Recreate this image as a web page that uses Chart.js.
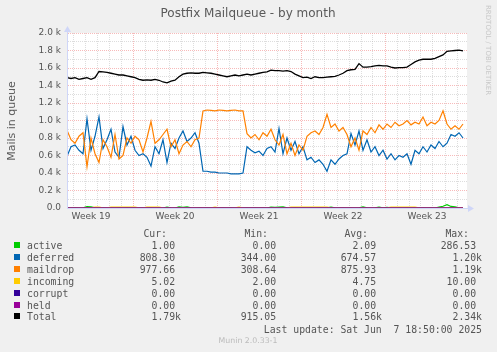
<!DOCTYPE html>
<html>
<head>
<meta charset="utf-8">
<script src="https://cdn.jsdelivr.net/npm/chart.js@4.4.1/dist/chart.umd.min.js"></script>
<style>
html, body { margin: 0; padding: 0; background: #f0f0f0; }
#wrap { position: relative; width: 497px; height: 352px; overflow: hidden; }
#c { position: absolute; left: 0; top: 0; }
.t { position: absolute; white-space: pre; color: #555; line-height: 12px; }
.mono { font-family: 'DejaVu Sans Mono', monospace; font-size: 9.8px; }
.sw { position: absolute; width: 6px; height: 6px; }
</style>
</head>
<body>
<div id="wrap"><canvas id="c" width="497" height="352"></canvas></div>
<script>
// Values, one sample every 8 hours (4 px of the original graph)
const stepDays = 1 / 3;
const spanDays = 400 / 12;

const total = [1490,1480,1490,1470,1480,1490,1470,1490,1560,1555,
  1550,1540,1530,1520,1520,1510,1500,1490,1470,1460,
  1465,1460,1470,1460,1440,1430,1450,1460,1500,1530,
  1540,1545,1540,1540,1550,1545,1540,1530,1520,1510,
  1500,1510,1520,1510,1520,1530,1520,1530,1540,1550,
  1555,1575,1570,1570,1565,1570,1560,1530,1510,1490,
  1495,1480,1500,1490,1490,1495,1500,1505,1520,1540,
  1570,1580,1585,1650,1610,1610,1615,1625,1630,1625,
  1625,1610,1600,1605,1605,1610,1640,1670,1690,1700,
  1700,1700,1710,1730,1750,1790,1795,1800,1805,1795];

const deferred = [590,700,720,660,620,1020,660,820,1040,680,
  780,900,640,580,930,720,820,660,600,620,
  580,480,700,620,780,520,740,680,800,880,
  760,800,860,740,420,420,410,410,400,400,
  400,390,390,390,400,700,660,630,650,600,
  680,700,640,910,620,800,660,760,620,700,
  550,580,520,550,500,420,550,500,560,600,
  620,850,720,880,660,780,640,700,600,660,
  560,620,550,600,580,620,500,660,620,700,
  640,720,680,760,700,740,840,820,860,800];

const maildrop = [890,780,740,820,860,470,800,620,520,780,
  700,580,840,560,600,800,740,820,780,640,
  800,990,740,780,840,900,700,780,620,720,
  760,700,780,800,1110,1120,1115,1110,1120,1115,
  1110,1115,1120,1110,1110,850,800,840,780,860,
  820,900,780,720,840,620,740,600,720,660,
  820,860,880,840,920,1070,920,960,880,920,
  840,700,800,660,880,840,920,860,950,900,
  960,920,980,940,960,1000,950,980,960,1040,
  940,980,960,1000,1110,960,900,940,900,960];

const active = [1,0,1,0,1,15,12,1,0,1,
  0,1,0,1,0,1,0,1,0,1,
  0,1,0,1,0,10,1,0,12,8,
  14,1,0,1,0,1,0,1,0,1,
  0,1,0,1,0,1,0,1,0,1,
  0,10,8,10,12,1,0,1,0,1,
  0,1,0,1,0,1,10,1,0,1,
  0,1,0,1,12,1,0,1,10,1,
  8,1,0,1,0,1,0,1,0,1,
  0,1,0,10,20,38,18,14,1,1];

const incoming = [3,3,3,3,3,3,3,9,9,3,
  3,9,10,9,10,9,10,9,3,3,
  9,10,9,9,3,3,3,3,3,3,
  3,3,3,3,3,3,3,9,3,3,
  3,3,3,9,3,3,3,3,3,3,
  3,3,3,3,3,3,9,10,9,10,
  9,10,9,10,9,10,3,3,3,3,
  3,3,3,3,3,3,3,3,3,3,
  3,9,10,9,10,9,10,9,3,3,
  3,3,3,3,3,3,3,3,5,5];

const corrupt = new Array(100).fill(0);
const held = new Array(100).fill(0);

// Axis labels
const weekLabels = ['Week 19', 'Week 20', 'Week 21', 'Week 22', 'Week 23'];
const weekCentres = [2, 9, 16, 23, 30];
const weekEdges = [5.5, 12.5, 19.5, 26.5];

// Legend table
const legendNames = ['active', 'deferred', 'maildrop', 'incoming', 'corrupt', 'held', 'Total'];
const legendColors = ['#00CC00', '#0066B3', '#FF8000', '#FFCC00', '#330099', '#990099', '#000000'];
const curText = ['1.00', '808.30', '977.66', '5.02', '0.00', '0.00', '1.79k'];
const minText = ['0.00', '344.00', '308.64', '2.00', '0.00', '0.00', '915.05'];
const avgText = ['2.09', '674.57', '875.93', '4.75', '0.00', '0.00', '1.56k'];
const maxText = ['286.53', '1.20k', '1.19k', '10.00', '0.00', '0.00', '2.34k'];

const majorGrid = 'rgba(240,130,130,0.55)';
const minorGrid = 'rgba(180,180,180,0.45)';
const axisColor = '#CFD6F8';

function points(vals) {
    return vals.map((v, i) => ({ x: i * stepDays, y: v }));
}

// white canvas + axis arrows like rrdtool
const rrdFrame = {
    id: 'rrdFrame',
    beforeDraw(chart) {
        const a = chart.chartArea, ctx = chart.ctx;
        ctx.save();
        ctx.fillStyle = '#ffffff';
        ctx.fillRect(a.left, a.top, a.right - a.left, a.bottom - a.top);
        ctx.restore();
    },
    afterDraw(chart) {
        const a = chart.chartArea, ctx = chart.ctx;
        const x0 = a.left + 0.5, y0 = a.bottom + 0.5;
        ctx.save();
        ctx.strokeStyle = axisColor;
        ctx.fillStyle = axisColor;
        ctx.lineWidth = 1;
        ctx.beginPath();
        ctx.moveTo(x0, y0); ctx.lineTo(x0, a.top - 2);
        ctx.moveTo(a.right, y0); ctx.lineTo(a.right + 3, y0);
        ctx.stroke();
        ctx.beginPath();
        ctx.moveTo(x0 - 3.5, a.top - 1); ctx.lineTo(x0 + 3.5, a.top - 1); ctx.lineTo(x0, a.top - 7);
        ctx.closePath(); ctx.fill();
        ctx.beginPath();
        ctx.moveTo(a.right + 1, y0 - 3.5); ctx.lineTo(a.right + 1, y0 + 3.5); ctx.lineTo(a.right + 7, y0);
        ctx.closePath(); ctx.fill();
        ctx.restore();
    }
};

function line(label, vals, color, order, width) {
    return {
        label: label,
        data: points(vals),
        borderColor: color,
        backgroundColor: color,
        borderWidth: width || 1.2,
        pointRadius: 0,
        tension: 0,
        fill: false,
        order: order
    };
}

const chart = new Chart(document.getElementById('c'), {
    type: 'line',
    data: {
        datasets: [
            line('active', active, '#00CC00', 7),
            line('deferred', deferred, '#0066B3', 6),
            line('maildrop', maildrop, '#FF8000', 5),
            line('incoming', incoming, '#FFCC00', 4),
            line('corrupt', corrupt, '#330099', 3),
            line('held', held, '#990099', 2, 1),
            line('Total', total, '#000000', 1, 1.3)
        ]
    },
    options: {
        responsive: false,
        animation: false,
        devicePixelRatio: 1,
        layout: { padding: { left: 0, right: 30, top: 33, bottom: 128 } },
        plugins: { legend: { display: false }, tooltip: { enabled: false }, title: { display: false } },
        scales: {
            x: {
                type: 'linear',
                min: 0,
                max: spanDays,
                afterFit: (s) => { s.height = 16; },
                afterBuildTicks: (s) => {
                    const t = [];
                    for (let d = 0.5; d < spanDays; d += 1) t.push({ value: d });
                    weekCentres.forEach(c => t.push({ value: c }));
                    t.sort((p, q) => p.value - q.value);
                    s.ticks = t;
                },
                border: { display: true, color: axisColor, dash: [1, 1] },
                grid: {
                    drawTicks: false,
                    color: (ctx) => {
                        const v = ctx.tick ? ctx.tick.value : -1;
                        if (weekCentres.includes(v)) return 'rgba(0,0,0,0)';
                        if (weekEdges.includes(v)) return majorGrid;
                        return minorGrid;
                    }
                },
                ticks: {
                    autoSkip: false,
                    maxRotation: 0,
                    padding: 3,
                    color: '#555',
                    font: { family: 'DejaVu Sans', size: 9 },
                    callback: (v) => {
                        const k = weekCentres.indexOf(v);
                        return k >= 0 ? weekLabels[k] : '';
                    }
                }
            },
            y: {
                min: 0,
                max: 2000,
                afterFit: (s) => { s.width = 67; },
                border: { display: true, color: axisColor, dash: [1, 1] },
                grid: {
                    drawTicks: false,
                    color: (ctx) => (ctx.tick && ctx.tick.value % 200 === 0) ? majorGrid : minorGrid
                },
                ticks: {
                    stepSize: 100,
                    autoSkip: false,
                    padding: 6,
                    color: '#555',
                    font: { family: 'DejaVu Sans', size: 9 },
                    callback: (v) => {
                        if (v % 200 !== 0) return '';
                        return v === 0 ? '0.0' : (v / 1000).toFixed(1) + ' k';
                    }
                }
            }
        }
    },
    plugins: [rrdFrame]
});

// texts around the graph
const wrap = document.getElementById('wrap');
function put(text, x, y, align, cls, extra) {
    const el = document.createElement('div');
    el.className = 't ' + (cls || '');
    el.textContent = text;
    el.style.top = (y - 6) + 'px';
    if (align === 'right') el.style.right = (497 - x) + 'px';
    else if (align === 'center') { el.style.left = (x - 200) + 'px'; el.style.width = '400px'; el.style.textAlign = 'center'; }
    else el.style.left = x + 'px';
    if (extra) Object.assign(el.style, extra);
    wrap.appendChild(el);
    return el;
}

put('Postfix Mailqueue - by month', 248, 13, 'center', '', { fontFamily: 'DejaVu Sans', fontSize: '12px', color: '#5a5a5a' });

const ylab = put('Mails in queue', 0, 0, 'left', '', { fontFamily: 'DejaVu Sans', fontSize: '11px', color: '#5a5a5a' });
ylab.style.left = '-28px';
ylab.style.top = '115px';
ylab.style.width = '80px';
ylab.style.textAlign = 'center';
ylab.style.transform = 'rotate(-90deg)';

const wm = document.createElement('div');
wm.className = 't';
wm.textContent = 'RRDTOOL / TOBI OETIKER';
Object.assign(wm.style, { left: '484px', top: '5px', writingMode: 'vertical-rl', fontFamily: 'DejaVu Sans', fontSize: '7px', color: '#c8c8c8', lineHeight: '8px' });
wrap.appendChild(wm);

put('Cur:', 167, 234, 'right', 'mono');
put('Min:', 268, 234, 'right', 'mono');
put('Avg:', 368, 234, 'right', 'mono');
put('Max:', 469, 234, 'right', 'mono');

const cell = (s) => s.endsWith('k') ? s : s + ' ';
legendNames.forEach((name, i) => {
    const y = 246 + i * 11.9;
    const sw = document.createElement('div');
    sw.className = 'sw';
    sw.style.left = '14px';
    sw.style.top = Math.round(y - 4) + 'px';
    sw.style.background = legendColors[i];
    wrap.appendChild(sw);
    put(name, 27, y, 'left', 'mono');
    put(cell(curText[i]), 181, y, 'right', 'mono');
    put(cell(minText[i]), 282, y, 'right', 'mono');
    put(cell(avgText[i]), 382, y, 'right', 'mono');
    put(cell(maxText[i]), 482, y, 'right', 'mono');
});

put('Last update: Sat Jun  7 18:50:00 2025', 482, 329.5, 'right', 'mono');
put('Munin 2.0.33-1', 248, 340.5, 'center', '', { fontFamily: 'DejaVu Sans', fontSize: '7.8px', color: '#bbb' });
</script>
</body>
</html>
